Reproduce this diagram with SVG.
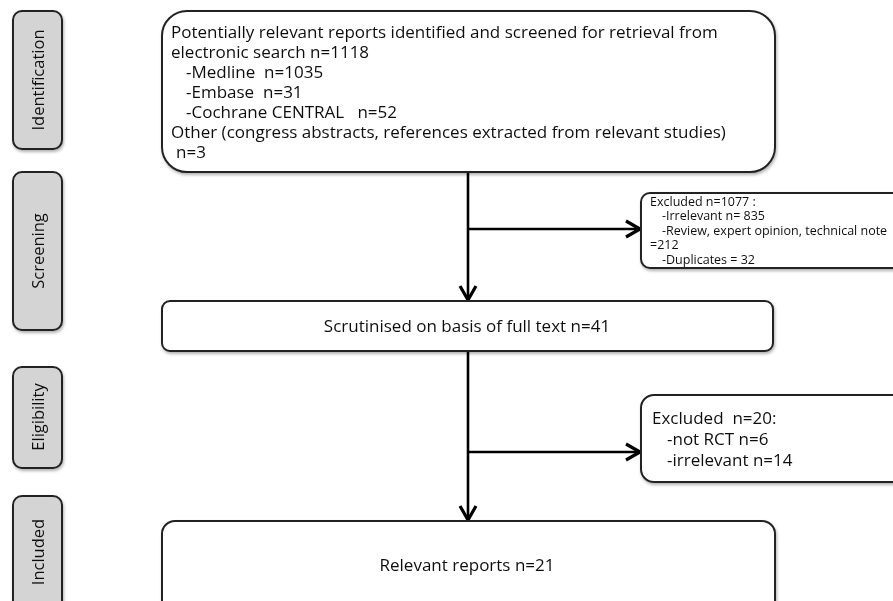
<svg xmlns="http://www.w3.org/2000/svg" width="893" height="601" viewBox="0 0 893 601">
<defs>
<filter id="sh" x="-5%" y="-10%" width="115%" height="130%">
<feDropShadow dx="1" dy="2" stdDeviation="1.5" flood-color="#000" flood-opacity="0.3"/>
</filter>
<marker id="ah" viewBox="0 0 18 20" refX="16" refY="10" markerWidth="18" markerHeight="20" markerUnits="userSpaceOnUse" orient="auto">
<path d="M2,2 L16,10 L2,18" fill="none" stroke="#000" stroke-width="3.2" stroke-linejoin="miter"/>
</marker>
<style>
.box{fill:#fff;stroke:#222;stroke-width:2}
.side{fill:#d4d4d4;stroke:#222;stroke-width:2}
.t{font-family:"Open Sans","DejaVu Sans",sans-serif;font-size:17px;fill:#111}
.l{font-family:"Open Sans","DejaVu Sans",sans-serif;font-size:16.5px;fill:#111}
.s{font-family:"Open Sans","DejaVu Sans",sans-serif;font-size:12.5px;fill:#111}
.c{stroke:#000;stroke-width:2.6;fill:none}
</style>
</defs>
<rect width="893" height="601" fill="#fff"/>
<g id="stage-identification" filter="url(#sh)">
<rect class="side" x="13" y="11" width="49" height="138" rx="9"/>
<text class="l" transform="translate(44,80) rotate(-90)" text-anchor="middle">Identification</text>
</g>
<g id="stage-screening" filter="url(#sh)">
<rect class="side" x="13" y="172" width="49" height="158" rx="9"/>
<text class="l" transform="translate(44,251) rotate(-90)" text-anchor="middle">Screening</text>
</g>
<g id="stage-eligibility" filter="url(#sh)">
<rect class="side" x="13" y="367" width="49" height="101" rx="9"/>
<text class="l" transform="translate(44,417) rotate(-90)" text-anchor="middle">Eligibility</text>
</g>
<g id="stage-included" filter="url(#sh)">
<rect class="side" x="13" y="496" width="49" height="120" rx="9"/>
<text class="l" transform="translate(44,552) rotate(-90)" text-anchor="middle">Included</text>
</g>
<g id="connectors">
<line class="c" x1="468" y1="172" x2="468" y2="300" marker-end="url(#ah)"/>
<line class="c" x1="468" y1="229" x2="640" y2="229" marker-end="url(#ah)"/>
<line class="c" x1="468" y1="351" x2="468" y2="520" marker-end="url(#ah)"/>
<line class="c" x1="468" y1="452" x2="640" y2="452" marker-end="url(#ah)"/>
</g>
<g id="identified" filter="url(#sh)">
<rect class="box" x="162" y="11" width="613" height="161" rx="25"/>
<text class="t" x="171" y="38">Potentially relevant reports identified and screened for retrieval from</text>
<text class="t" x="171" y="58">electronic search n=1118</text>
<text class="t" x="186" y="78" xml:space="preserve">-Medline  n=1035</text>
<text class="t" x="186" y="98" xml:space="preserve">-Embase  n=31</text>
<text class="t" x="186" y="118" xml:space="preserve">-Cochrane CENTRAL   n=52</text>
<text class="t" x="171" y="138">Other (congress abstracts, references extracted from relevant studies)</text>
<text class="t" x="176" y="158">n=3</text>
</g>
<g id="excluded-1" filter="url(#sh)">
<rect class="box" x="641" y="193" width="270" height="75" rx="9"/>
<text class="s" x="650" y="206">Excluded n=1077 :</text>
<text class="s" x="662" y="220">-Irrelevant n= 835</text>
<text class="s" x="662" y="235">-Review, expert opinion, technical note</text>
<text class="s" x="650" y="249">=212</text>
<text class="s" x="662" y="264">-Duplicates = 32</text>
</g>
<g id="scrutinised" filter="url(#sh)">
<rect class="box" x="162" y="301" width="611" height="50" rx="8"/>
<text class="t" x="467" y="332" text-anchor="middle">Scrutinised on basis of full text n=41</text>
</g>
<g id="excluded-2" filter="url(#sh)">
<rect class="box" x="641" y="395" width="270" height="87" rx="13"/>
<text class="t" x="652" y="424" xml:space="preserve">Excluded  n=20:</text>
<text class="t" x="667" y="445">-not RCT n=6</text>
<text class="t" x="667" y="466">-irrelevant n=14</text>
</g>
<g id="relevant" filter="url(#sh)">
<rect class="box" x="162" y="521" width="613" height="110" rx="13"/>
<text class="t" x="467" y="571" text-anchor="middle">Relevant reports n=21</text>
</g>
</svg>
